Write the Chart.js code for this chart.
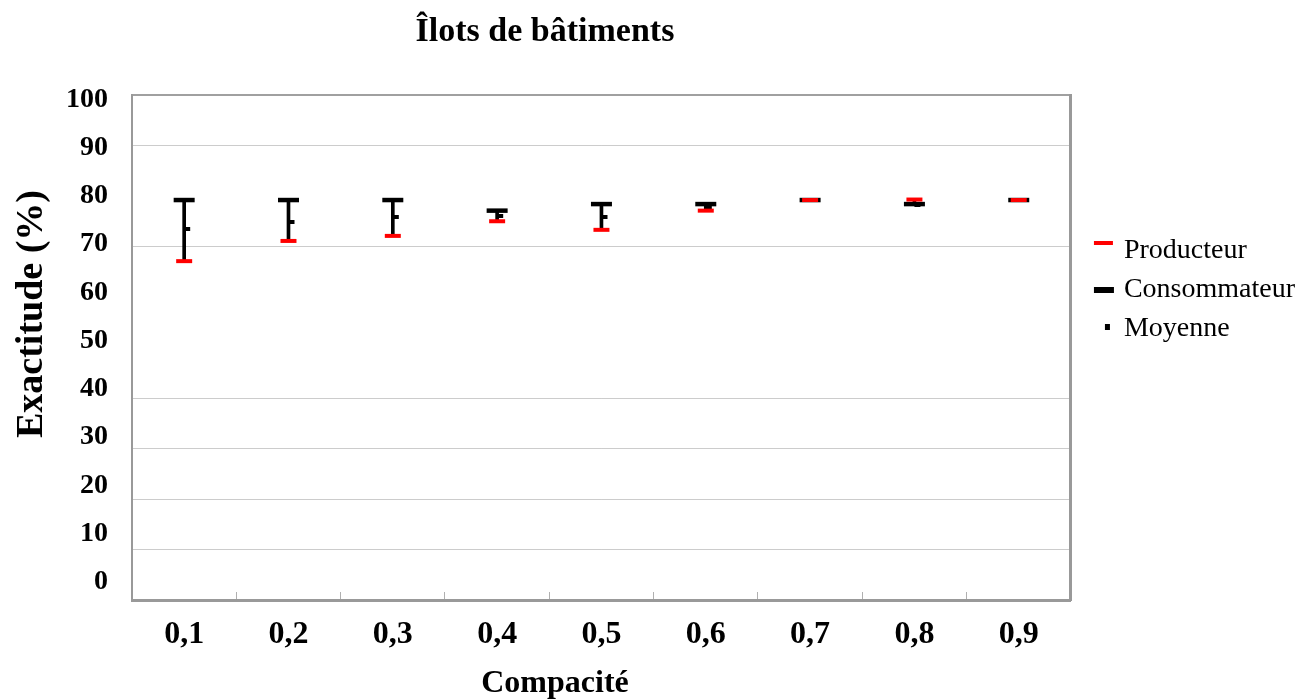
<!DOCTYPE html>
<html>
<head>
<meta charset="utf-8">
<script src="https://cdn.jsdelivr.net/npm/chart.js@4/dist/chart.umd.min.js"></script>
<style>
  html, body { margin: 0; padding: 0; background: #ffffff; }
  #wrap { width: 1308px; height: 700px; position: relative; }
</style>
</head>
<body>
<div id="wrap"><canvas id="chart" width="1308" height="700"></canvas></div>
<script>
// ---- data ----
const chartTitle = 'Îlots de bâtiments';
const xAxisTitle = 'Compacité';
const yAxisTitle = 'Exactitude (%)';
const categories = ['0,1', '0,2', '0,3', '0,4', '0,5', '0,6', '0,7', '0,8', '0,9'];
const producteur   = [67.1, 71.1, 72.1, 75.0, 73.3, 77.1, 79.2, 79.3, 79.2];
const consommateur = [79.2, 79.2, 79.2, 77.1, 78.4, 78.4, 79.2, 78.4, 79.2];
const moyenne      = [73.4, 74.9, 75.9, 76.0, 75.9, 77.8, 79.2, 78.3, 79.2];
const yTickValues  = [0, 10, 20, 30, 40, 50, 60, 70, 80, 90, 100];
const seriesNames  = ['Producteur', 'Consommateur', 'Moyenne'];
const hiddenGridValues = [50, 60, 80];

// ---- styling helpers ----
const FONT = '"Liberation Serif", "Times New Roman", serif';
const RED = '#ff0000';
const BLACK = '#000000';

function markCanvas(w, h, rect, color) {
  const c = document.createElement('canvas');
  c.width = w; c.height = h;
  const g = c.getContext('2d');
  g.fillStyle = color;
  g.fillRect(rect[0], rect[1], rect[2], rect[3]);
  return c;
}
const meanMark  = markCanvas(14, 4, [7, 0, 6, 4], BLACK);
const legProd   = markCanvas(40, 20, [9, 0, 19, 4], RED);
const legCons   = markCanvas(40, 20, [9, 7, 20, 6], BLACK);
const legMoy    = markCanvas(40, 20, [20, 5, 5, 6], BLACK);
const legendMarks = [legProd, legCons, legMoy];

const ranges = categories.map((c, i) => [producteur[i], consommateur[i]]);
const setTicks = (scale) => { scale.ticks = yTickValues.map(v => ({ value: v })); };

const titlesPlugin = {
  id: 'titles',
  afterDraw(chart) {
    const ctx = chart.ctx;
    ctx.save();
    ctx.fillStyle = BLACK;
    ctx.textAlign = 'center';
    ctx.textBaseline = 'alphabetic';
    ctx.font = 'bold 34px ' + FONT;
    ctx.fillText(chartTitle, 545, 41);
    ctx.font = 'bold 32px ' + FONT;
    ctx.fillText(xAxisTitle, 555, 692);
    ctx.translate(42, 314);
    ctx.rotate(-Math.PI / 2);
    ctx.font = 'bold 38px ' + FONT;
    ctx.fillText(yAxisTitle, 0, 0);
    ctx.restore();
  }
};

new Chart(document.getElementById('chart'), {
  type: 'bar',
  data: {
    labels: categories,
    datasets: [
      {
        type: 'line', label: seriesNames[0], data: producteur, order: 0,
        showLine: false, pointStyle: 'line', pointRadius: 8, pointHoverRadius: 8,
        pointBorderWidth: 4, pointHoverBorderWidth: 4,
        borderColor: RED, backgroundColor: RED, pointBorderColor: RED
      },
      {
        type: 'line', label: seriesNames[1], data: consommateur, order: 1,
        showLine: false, pointStyle: 'line', pointRadius: 10.5, pointHoverRadius: 10.5,
        pointBorderWidth: 4.5, pointHoverBorderWidth: 4.5,
        borderColor: BLACK, backgroundColor: BLACK, pointBorderColor: BLACK
      },
      {
        type: 'line', label: seriesNames[2], data: moyenne, order: 2,
        showLine: false, pointStyle: meanMark, pointRadius: 5,
        borderColor: BLACK, backgroundColor: BLACK
      },
      {
        type: 'bar', label: 'range', data: ranges, order: 3,
        backgroundColor: BLACK, borderWidth: 0, barThickness: 3
      }
    ]
  },
  options: {
    responsive: false,
    devicePixelRatio: 1,
    animation: false,
    events: [],
    layout: { padding: { top: 95, right: 3, bottom: 0, left: 0 } },
    scales: {
      x: {
        type: 'category',
        offset: true,
        grid: { display: true, drawOnChartArea: false, offset: true, tickLength: -8, color: '#b0b0b0', lineWidth: 1 },
        border: { display: true, color: '#999999', width: 3 },
        ticks: { font: { family: FONT, size: 32, weight: 'bold' }, color: BLACK, padding: 24, maxRotation: 0, autoSkip: false },
        afterFit(s) { s.height = 100; }
      },
      y: {
        type: 'linear', position: 'left', weight: 0,
        min: 0, max: 100,
        afterBuildTicks: setTicks,
        grid: {
          drawTicks: false,
          color: (c) => hiddenGridValues.includes(c.tick && c.tick.value) ? 'rgba(0,0,0,0)' : (c.tick && c.tick.value === 100 ? '#a0a0a0' : '#cccccc'),
          lineWidth: (c) => (c.tick && c.tick.value === 100) ? 2 : 1
        },
        border: { display: true, color: '#999999', width: 2 },
        ticks: { display: false },
        afterFit(s) { s.width = 0; }
      },
      yl: {
        type: 'linear', position: 'left', weight: 1,
        min: -3.73, max: 100.93,
        afterBuildTicks: setTicks,
        grid: { display: false, drawTicks: false },
        border: { display: false },
        ticks: { font: { family: FONT, size: 28, weight: 'bold' }, color: BLACK, padding: 24 },
        afterFit(s) { s.width = 132; }
      },
      yr: {
        type: 'linear', position: 'right', weight: 0,
        min: 0, max: 100,
        grid: { display: false, drawTicks: false },
        border: { display: true, color: '#999999', width: 3 },
        ticks: { display: false },
        afterFit(s) { s.width = 18; }
      }
    },
    plugins: {
      tooltip: { enabled: false },
      title: { display: false },
      legend: {
        display: true,
        position: 'right',
        align: 'start',
        maxWidth: 400,
        title: { display: true, text: ' ', font: { size: 10, lineHeight: 1 }, padding: { top: 121, bottom: 0 } },
        labels: {
          usePointStyle: true,
          pointStyleWidth: 10,
          padding: 11,
          color: BLACK,
          font: { family: FONT, size: 28 },
          generateLabels: () => seriesNames.map((name, i) => ({
            text: name,
            pointStyle: legendMarks[i],
            fillStyle: i === 0 ? RED : BLACK,
            strokeStyle: i === 0 ? RED : BLACK,
            lineWidth: 0,
            hidden: false,
            datasetIndex: i,
            fontColor: BLACK
          }))
        }
      }
    }
  },
  plugins: [titlesPlugin]
});
</script>
</body>
</html>
